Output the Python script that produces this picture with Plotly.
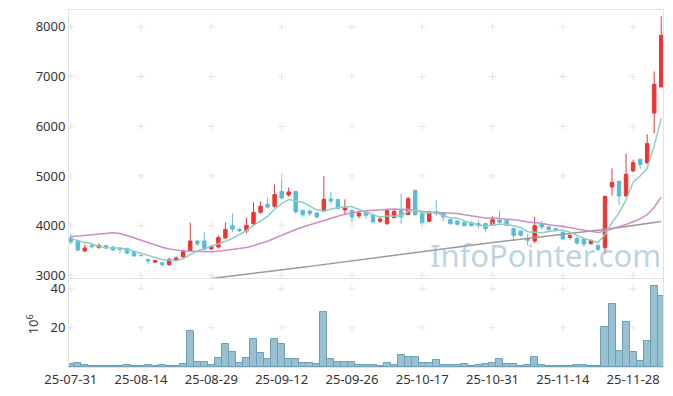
import plotly.graph_objects as go

dates = ["25-07-31","25-08-01","25-08-04","25-08-05","25-08-06","25-08-07","25-08-08",
         "25-08-11","25-08-12","25-08-13","25-08-14",
         "25-08-18","25-08-19","25-08-20","25-08-21","25-08-22",
         "25-08-25","25-08-26","25-08-27","25-08-28","25-08-29",
         "25-09-01","25-09-02","25-09-03","25-09-04","25-09-05",
         "25-09-08","25-09-09","25-09-10","25-09-11","25-09-12",
         "25-09-15","25-09-16","25-09-17","25-09-18","25-09-19",
         "25-09-22","25-09-23","25-09-24","25-09-25","25-09-26",
         "25-09-29","25-09-30","25-10-01","25-10-02","25-10-10",
         "25-10-13","25-10-14","25-10-15","25-10-16","25-10-17",
         "25-10-20","25-10-21","25-10-22","25-10-23","25-10-24",
         "25-10-27","25-10-28","25-10-29","25-10-30","25-10-31",
         "25-11-03","25-11-04","25-11-05","25-11-06","25-11-07",
         "25-11-10","25-11-11","25-11-12","25-11-13","25-11-14",
         "25-11-17","25-11-18","25-11-19","25-11-20","25-11-21",
         "25-11-24","25-11-25","25-11-26","25-11-27","25-11-28",
         "25-12-01","25-12-02","25-12-03","25-12-04"]

opens = [3750,3690,3490,3600,3560,3600,3570,3540,3540,3480,
         3400,3320,3265,3250,3215,3300,3370,3500,3690,3690,
         3530,3570,3750,4005,3925,3895,4035,4268,4430,4390,
         4690,4617,4690,4308,4294,4254,4294,4536,4524,4315,
         4308,4194,4275,4208,4087,4040,4161,4308,4221,4711,
         4242,4087,4282,4262,4121,4093,4067,4060,4040,4040,
         4006,4107,4107,3940,3892,3725,3690,4040,3973,3940,
         3866,3759,3745,3731,3637,3604,3557,4778,4892,4597,
         5100,5336,5268,6267,6791]
highs = [3840,3700,3620,3630,3640,3610,3590,3570,3560,3500,
         3410,3330,3310,3260,3360,3380,3520,4060,3710,3870,
         3600,3800,4065,4245,3950,4160,4470,4490,4565,4830,
         5070,4765,4700,4320,4320,4260,5000,4678,4540,4530,
         4320,4290,4290,4215,4190,4340,4320,4644,4580,4720,
         4270,4300,4510,4270,4150,4100,4080,4090,4100,4060,
         4190,4308,4120,3960,3900,3840,4174,4090,3990,3960,
         3880,3840,3770,3760,3720,3620,4600,5151,4900,5450,
         5330,5340,5838,7107,8214]
lows = [3620,3480,3470,3550,3530,3530,3490,3440,3420,3380,
        3390,3220,3250,3170,3190,3290,3360,3490,3590,3510,
        3520,3540,3740,3870,3870,3850,4010,4240,4340,4360,
        4530,4580,4240,4180,4190,4150,4270,4430,4320,4230,
        4073,4150,4140,4060,4050,4010,4150,4040,4210,4200,
        4000,4070,4200,4100,4020,4000,3990,3980,3950,3880,
        3940,4040,3990,3700,3780,3600,3650,3920,3900,3880,
        3720,3720,3620,3570,3620,3500,3437,4610,4409,4580,
        5080,5140,5230,5858,6791]
closes = [3670,3510,3550,3575,3600,3550,3510,3520,3450,3390,
          3395,3290,3300,3215,3320,3350,3480,3690,3630,3520,
          3585,3760,3925,3930,3895,4000,4268,4390,4375,4625,
          4555,4678,4275,4221,4242,4174,4530,4496,4342,4355,
          4174,4254,4208,4073,4133,4308,4288,4174,4544,4221,
          4053,4275,4242,4174,4040,4026,4000,4000,4000,3940,
          4121,4067,4006,3805,3805,3710,4000,3973,3920,3906,
          3731,3799,3650,3630,3704,3517,4590,4872,4597,5033,
          5268,5228,5651,6845,7831]

ma5 = [3738,3700,3660,3638,3581,3557,3557,3551,3526,3484,
       3453,3409,3365,3318,3304,3295,3333,3411,3494,3534,
       3581,3637,3684,3744,3819,3902,4004,4097,4186,4332,
       4443,4525,4502,4471,4394,4318,4288,4333,4357,4379,
       4379,4324,4267,4213,4168,4195,4202,4195,4289,4307,
       4256,4253,4267,4193,4157,4151,4096,4048,4013,3993,
       4012,4026,4027,3988,3961,3879,3865,3859,3882,3902,
       3906,3866,3801,3743,3703,3660,3818,4063,4256,4522,
       4872,5000,5155,5605,6165]
ma20 = [3775,3790,3805,3820,3835,3848,3858,3840,3805,3755,
        3705,3655,3610,3565,3530,3505,3492,3485,3480,3476,
        3472,3484,3503,3521,3535,3558,3596,3639,3685,3747,
        3805,3875,3923,3974,4020,4061,4113,4154,4189,4231,
        4261,4285,4299,4307,4318,4334,4335,4324,4332,4312,
        4287,4267,4265,4263,4253,4246,4219,4194,4177,4156,
        4154,4144,4134,4121,4104,4075,4060,4050,4019,4003,
        3987,3963,3934,3906,3890,3864,3894,3937,3967,4022,
        4079,4137,4219,4371,4573]
ma60 = [None]*20 + [
        2938,2954,2970,2986,3002,3018,3034,3050,3066,3085,
        3104,3123,3142,3161,3180,3199,3218,3237,3256,3275,
        3294,3313,3332,3351,3370,3389,3408,3427,3446,3465,
        3484,3503,3522,3541,3560,3579,3596,3612,3628,3644,
        3660,3676,3692,3708,3724,3740,3756,3772,3788,3804,
        3820,3836,3852,3868,3886,3905,3924,3943,3962,3981,
        4000,4020,4040,4060,4081]

volume_m = [1.5,2.0,1.2,0.5,0.4,0.4,0.4,0.4,1.0,0.5,
            0.4,1.0,0.4,1.0,0.5,0.5,1.7,18.5,2.8,2.8,
            1.2,4.7,12.0,7.9,2.2,4.7,14.4,7.3,3.9,14.4,
            12.0,4.2,4.2,2.2,2.2,1.7,28.1,4.2,2.6,2.6,
            2.6,1.0,1.0,1.0,0.5,2.2,1.0,6.2,5.2,5.2,
            2.2,2.2,3.7,0.9,0.9,0.9,1.6,0.3,1.0,1.6,
            2.2,4.2,1.6,1.6,0.4,1.0,5.2,1.0,0.4,0.4,
            0.4,0.4,1.0,1.0,0.4,0.4,20.5,32.2,8.3,23.1,
            7.8,3.2,13.4,41.4,36.3]

tick_labels = ["25-07-31","25-08-14","25-08-29","25-09-12","25-09-26",
               "25-10-17","25-10-31","25-11-14","25-11-28"]
price_ticks = [3000, 4000, 5000, 6000, 7000, 8000]
vol_ticks = [20, 40]

FONT = "Noto Sans"
GRID = "#e4e4e4"
AXLINE = "#e3e3e3"
TXT = "#333333"

idx = list(range(len(dates)))
tick_idx = [dates.index(t) for t in tick_labels]

fig = go.Figure()

fig.add_trace(go.Scatter(
    x=[i for i in tick_idx for _ in price_ticks],
    y=[p for _ in tick_idx for p in price_ticks],
    mode="markers", xaxis="x", yaxis="y",
    marker=dict(symbol="cross-thin", size=5, line=dict(color=GRID, width=1)),
    hoverinfo="skip", showlegend=False))
fig.add_trace(go.Scatter(
    x=[i for i in tick_idx for _ in vol_ticks],
    y=[v for _ in tick_idx for v in vol_ticks],
    mode="markers", xaxis="x2", yaxis="y2",
    marker=dict(symbol="cross-thin", size=5, line=dict(color=GRID, width=1)),
    hoverinfo="skip", showlegend=False))

fig.add_trace(go.Scatter(x=idx, y=ma60, mode="lines", xaxis="x", yaxis="y",
                         line=dict(color="#9a9a9a", width=1.5), hoverinfo="skip", showlegend=False))
fig.add_trace(go.Scatter(x=idx, y=ma20, mode="lines", xaxis="x", yaxis="y",
                         line=dict(color="#cf8cc5", width=1.5), hoverinfo="skip", showlegend=False))
fig.add_trace(go.Scatter(x=idx, y=ma5, mode="lines", xaxis="x", yaxis="y",
                         line=dict(color="#8fcfc2", width=1.5), hoverinfo="skip", showlegend=False))

fig.add_trace(go.Candlestick(
    x=idx, open=opens, high=highs, low=lows, close=closes,
    xaxis="x", yaxis="y",
    increasing=dict(line=dict(color="#ee3535", width=1), fillcolor="#ee3535"),
    decreasing=dict(line=dict(color="#5bbbd6", width=1), fillcolor="#5bbbd6"),
    whiskerwidth=0, showlegend=False, hoverinfo="skip"))

fig.add_trace(go.Bar(
    x=idx, y=volume_m, xaxis="x2", yaxis="y2",
    marker=dict(color="#97c0d0", line=dict(color="#6f9fb6", width=1)),
    showlegend=False, hoverinfo="skip"))

xcommon = dict(type="linear", range=[-0.25, 84.25], showgrid=False, automargin=False,
               showline=True, linecolor=AXLINE, linewidth=1, mirror=True,
               ticks="", zeroline=False, domain=[0, 1],
               tickvals=tick_idx, ticktext=tick_labels)

fig.update_layout(
    width=673, height=396,
    margin=dict(l=69, r=10, t=10, b=29, autoexpand=False),
    paper_bgcolor="white", plot_bgcolor="white",
    font=dict(family=FONT, size=13, color=TXT),
    bargap=0, boxgap=0.3,
    xaxis=dict(**xcommon, anchor="y", showticklabels=False,
               rangeslider=dict(visible=False)),
    xaxis2=dict(**xcommon, anchor="y2", showticklabels=True,
                tickfont=dict(size=13, color=TXT)),
    yaxis=dict(domain=[0.2493, 1], range=[2946, 8340], tickvals=price_ticks,
               showgrid=False, zeroline=False, showline=True, linecolor=AXLINE,
               mirror=True, ticks="", automargin=False,
               tickfont=dict(size=13, color=TXT)),
    yaxis2=dict(domain=[0, 0.2465], range=[0, 45], tickvals=vol_ticks,
                showgrid=False, zeroline=False, showline=True, linecolor=AXLINE,
                mirror=True, ticks="", automargin=False,
                tickfont=dict(size=13, color=TXT)),
    showlegend=False,
    annotations=[
        dict(text="InfoPointer.com", xref="paper", yref="paper",
             x=0.803, y=0.315, xanchor="center", yanchor="middle",
             showarrow=False,
             font=dict(family=FONT, size=31, color="rgba(145,182,206,0.6)")),
        dict(text="10<sup>6</sup>", xref="paper", yref="paper",
             x=-0.062, y=0.12, xanchor="center", yanchor="middle",
             textangle=-90, showarrow=False,
             font=dict(family=FONT, size=13, color=TXT)),
    ],
)

fig.write_html("out.html", config={"displayModeBar": False},
               post_script="document.body.style.margin='0';document.body.style.padding='0';")
